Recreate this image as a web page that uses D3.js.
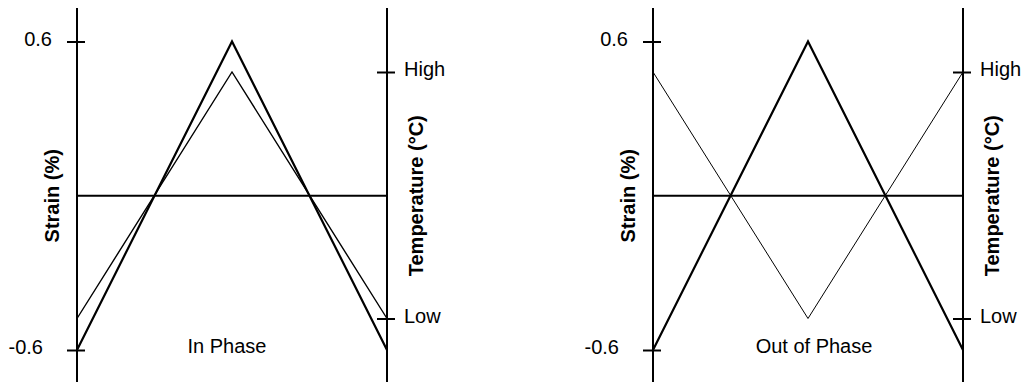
<!DOCTYPE html>
<html>
<head>
<meta charset="utf-8">
<script src="https://cdn.jsdelivr.net/npm/d3@7"></script>
<style>
  body { margin: 0; background: #fff; }
  svg { display: block; font-family: "Liberation Sans", Arial, sans-serif; }
</style>
</head>
<body>
<svg id="chart" width="1022" height="382"></svg>
<script>
// cycle position (0 = start, 0.5 = half, 1 = end)
var cycle = [0, 0.5, 1];
var strainTicks = [-0.6, 0.6];
var tempTicks = [0, 1];
var tempLabels = ['Low', 'High'];
var strainTitle = 'Strain (%)';
var tempTitle = 'Temperature (\u00B0C)';
var panelNames = ['In Phase', 'Out of Phase'];
// strain follows the same wave in both panels
var strainIn = [-0.6, 0.6, -0.6];
var strainOut = [-0.6, 0.6, -0.6];
// temperature: 0 = Low, 1 = High
var tempIn = [0, 1, 0];
var tempOut = [1, 0, 1];

var svg = d3.select('#chart');

var scaleY = d3.scaleLinear().domain([-0.6, 0.6]).range([350, 41.5]);
var scaleT = d3.scaleLinear().domain([0, 1]).range([318.5, 72]);

var panels = [
  {x0: 77, x1: 387, name: panelNames[0], strain: strainIn, temp: tempIn, thin: 1.4, nameDx: -5},
  {x0: 653, x1: 963, name: panelNames[1], strain: strainOut, temp: tempOut, thin: 1, nameDx: 6}
];

panels.forEach(function(p){
  var g = svg.append('g');
  var scaleX = d3.scaleLinear().domain([0, 1]).range([p.x0, p.x1]);

  // vertical axis lines
  [p.x0, p.x1].forEach(function(x){
    g.append('line')
      .attr('x1', x).attr('x2', x)
      .attr('y1', 8).attr('y2', 382)
      .attr('stroke', '#000').attr('stroke-width', 2);
  });

  var axisL = d3.axisLeft(scaleY).tickValues(strainTicks).tickSize(10)
      .tickFormat(d3.format('.1f'));
  var gl = g.append('g')
      .attr('transform', 'translate(' + p.x0 + ',0)')
      .call(axisL);
  gl.select('.domain').remove();
  gl.selectAll('.tick line').attr('x1', 8).attr('stroke', '#000').attr('stroke-width', 2);
  gl.selectAll('.tick text')
      .attr('font-size', 20).attr('font-family', null).attr('fill', '#000')
      .attr('x', function(d){ return d < 0 ? -34 : -25; })
      .attr('dy', '0.18em')
      .text(function(d){ return d < 0 ? '-0.6' : '0.6'; });

  var axisR = d3.axisRight(scaleT).tickValues(tempTicks).tickSize(8)
      .tickFormat(function(d, i){ return tempLabels[i]; });
  var gr = g.append('g')
      .attr('transform', 'translate(' + p.x1 + ',0)')
      .call(axisR);
  gr.select('.domain').remove();
  gr.selectAll('.tick line').attr('x1', -10).attr('stroke', '#000').attr('stroke-width', 2);
  gr.selectAll('.tick text')
      .attr('font-size', 20).attr('font-family', null).attr('fill', '#000')
      .attr('x', 17)
      .attr('dy', '0.18em');

  // zero line
  g.append('line')
    .attr('x1', p.x0).attr('x2', p.x1)
    .attr('y1', scaleY(0)).attr('y2', scaleY(0))
    .attr('stroke', '#000').attr('stroke-width', 2);

  var lineS = d3.line()
      .x(function(d, i){ return scaleX(cycle[i]); })
      .y(function(d){ return scaleY(d); });
  var lineT = d3.line()
      .x(function(d, i){ return scaleX(cycle[i]); })
      .y(function(d){ return scaleT(d); });

  g.append('path').datum(p.temp)
    .attr('d', lineT)
    .attr('fill', 'none').attr('stroke', '#000').attr('stroke-width', p.thin);
  g.append('path').datum(p.strain)
    .attr('d', lineS)
    .attr('fill', 'none').attr('stroke', '#000').attr('stroke-width', 2.2)
    .attr('stroke-linejoin', 'miter');

  // axis titles
  var cy = scaleY(0);
  g.append('text')
    .attr('transform', 'translate(' + (p.x0 - 25) + ',' + cy + ') rotate(-90)')
    .attr('text-anchor', 'middle').attr('dy', '0.35em')
    .attr('font-size', 20).attr('font-weight', 'bold')
    .text(strainTitle);
  g.append('text')
    .attr('transform', 'translate(' + (p.x1 + 29) + ',' + cy + ') rotate(-90)')
    .attr('text-anchor', 'middle').attr('dy', '0.35em')
    .attr('font-size', 20).attr('font-weight', 'bold')
    .text(tempTitle);

  g.append('text')
    .attr('x', (p.x0 + p.x1) / 2 + p.nameDx)
    .attr('y', 353)
    .attr('text-anchor', 'middle')
    .attr('font-size', 20)
    .text(p.name);
});
</script>
</body>
</html>
